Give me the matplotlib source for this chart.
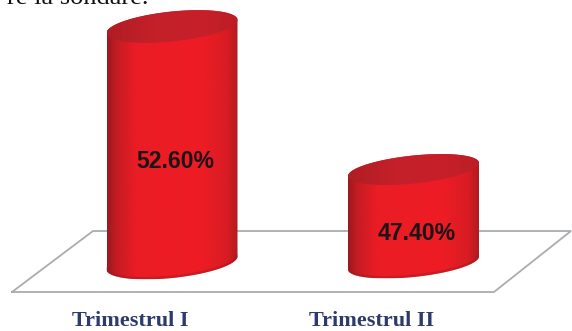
import numpy as np
import matplotlib.pyplot as plt
from matplotlib.colors import LinearSegmentedColormap
from matplotlib.patches import PathPatch
from matplotlib.path import Path

categories = ['Trimestrul I', 'Trimestrul II']
values = [52.6, 47.4]
value_labels = ['52.60%', '47.40%']
base_value = 44.0

W, H = 572, 331
PX_PER_X = 241.5
PX_PER_Y = 27.5
BASE_PX = 263  # distance of the cylinder base from the top edge

body_cmap = LinearSegmentedColormap.from_list('body', [
    (0.00, '#9a1a20'), (0.07, '#c41c24'), (0.22, '#ea1c24'), (0.72, '#ee1c25'),
    (0.92, '#d81c23'), (1.00, '#b01b20')])
lid_cmap = LinearSegmentedColormap.from_list('lid', [
    (0.00, '#b01d23'), (0.35, '#c4202a'), (0.75, '#c6202a'), (1.00, '#bc1e25')])

fig = plt.figure(figsize=(W / 100, H / 100), dpi=100)
ax = fig.add_axes([0, 0, 1, 1])
x0 = 172 / PX_PER_X
y0 = base_value - (H - BASE_PX) / PX_PER_Y
ax.set_xlim(-x0, -x0 + W / PX_PER_X)
ax.set_ylim(y0, y0 + H / PX_PER_Y)
ax.axis('off')


def ellipse(cx, cy, half, b, t):
    # tilted rim of a cylinder, sizes given in pixels
    x = cx + half * np.cos(t) / PX_PER_X
    y = cy + (0.1 * half * np.cos(t) + b * np.sin(t)) / PX_PER_Y
    return x, y


def fill_gradient(x, y, cmap, zorder):
    verts = np.column_stack([x, y])
    patch = PathPatch(Path(np.vstack([verts, verts[0]]), closed=True), fc='none', ec='none')
    ax.add_patch(patch)
    grad = np.linspace(0, 1, 256)[None, :]
    im = ax.imshow(grad, cmap=cmap, aspect='auto', zorder=zorder,
                   extent=(x.min(), x.max(), y.min(), y.max()))
    im.set_clip_path(patch)
    return patch


def cylinder(pos, value, half=65.5, b=15):
    t_low = np.linspace(np.pi, 2 * np.pi, 80)
    t_up = np.linspace(0, np.pi, 80)
    # body: lower rim of the base, then back along the top rim
    bx, by = ellipse(pos, base_value, half, b, t_low)
    tx, ty = ellipse(pos, value, half, b, t_up)
    body = fill_gradient(np.r_[bx, tx], np.r_[by, ty], body_cmap, 3)
    lx, ly = ellipse(pos, value, half, b, np.linspace(0, 2 * np.pi, 160))
    fill_gradient(lx, ly, lid_cmap, 4)
    # darker band along the base, kept inside the body
    band, = ax.plot(bx, by, color='#a01a1f', lw=3.5, alpha=0.45, zorder=4)
    band.set_clip_path(body)


# floor under the cylinders, corners in pixels
floor_x = np.array([12, 93, 571, 494, 12])
floor_y = np.array([292, 231, 231, 292, 292])
ax.plot(-x0 + floor_x / PX_PER_X, y0 + (H - floor_y) / PX_PER_Y,
        color='#a9acb0', lw=1.3, zorder=1, solid_joinstyle='miter')

for i, (name, v, lab) in enumerate(zip(categories, values, value_labels)):
    cylinder(i, v, b=15 if i == 0 else 14)
    ax.annotate(lab, xy=(i, (v + base_value) / 2), xytext=(3.5, -17), textcoords='offset pixels',
                ha='center', va='center', fontsize=16.6, fontweight='bold',
                family='Liberation Sans', color='#1c1416', zorder=5)
    ax.annotate(name, xy=(i, base_value), xytext=(-41.5, -58), textcoords='offset pixels',
                ha='center', va='center', fontsize=16, fontweight='bold',
                family='Liberation Serif', color='#2c3a6c', zorder=5)

# last line of the paragraph above the chart, cut by the top edge
fig.text(7 / W, 1 - 4.5 / H, 're la sondare.', fontsize=19, family='Liberation Serif',
         color='#111111', ha='left', va='baseline')

fig.savefig('out.png', dpi=100)
